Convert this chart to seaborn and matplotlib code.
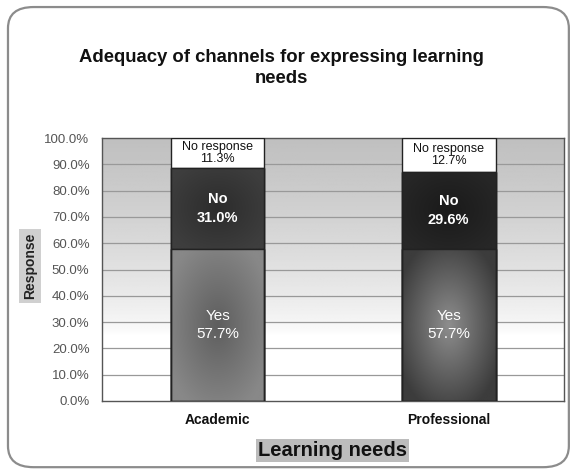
import numpy as np
import pandas as pd
import matplotlib
matplotlib.use("Agg")
import matplotlib.pyplot as plt
from matplotlib.patches import FancyBboxPatch
from matplotlib.colors import to_rgb
import seaborn as sns

# Survey data
categories = ["Academic", "Professional"]
yes_pct = [57.7, 57.7]
no_pct = [31.0, 29.6]
no_response_pct = [11.3, 12.7]
segment_names = ["Yes", "No", "No response"]
y_ticks = [0, 10, 20, 30, 40, 50, 60, 70, 80, 90, 100]

sns.set_theme(style="white")
plt.rcParams["font.family"] = ["Liberation Sans", "DejaVu Sans"]

fig = plt.figure(figsize=(5.7, 4.7), dpi=100)
ax = fig.add_axes([0.179, 0.147, 0.811, 0.559])

# Outer rounded frame
frame = FancyBboxPatch((0.014, 0.006), 0.984, 0.979,
                       boxstyle="round,pad=0,rounding_size=0.045",
                       transform=fig.transFigure, facecolor="white",
                       edgecolor="#8c8c8c", linewidth=1.6, zorder=-10)
fig.patches.append(frame)

df = pd.DataFrame({
    "category": categories,
    "Yes": yes_pct,
    "No": no_pct,
    "No response": no_response_pct,
})
df["cum_yes"] = df["Yes"]
df["cum_no"] = df["Yes"] + df["No"]
df["cum_all"] = df["cum_no"] + df["No response"]

# Stacked bars drawn as layered cumulative totals
bar_width = 0.405
sns.barplot(data=df, x="category", y="cum_all", color="white", width=bar_width,
            edgecolor="#222222", linewidth=1.0, saturation=1, ax=ax, zorder=3)
sns.barplot(data=df, x="category", y="cum_no", color="#3a3a3a", width=bar_width,
            edgecolor="#222222", linewidth=1.0, saturation=1, ax=ax, zorder=4)
sns.barplot(data=df, x="category", y="cum_yes", color="#7c7c7c", width=bar_width,
            edgecolor="#222222", linewidth=1.0, saturation=1, ax=ax, zorder=5)

# Radial shading for the filled segments: (edge colour, centre colour)
shading = {
    ("Academic", "No"): ("#3e3e3e", "#2c2c2c"),
    ("Academic", "Yes"): ("#888888", "#5e5e5e"),
    ("Professional", "No"): ("#272727", "#1a1a1a"),
    ("Professional", "Yes"): ("#3c3c3c", "#8e8e8e"),
}

containers = ax.containers  # [total, yes+no, yes]
for i, cat in enumerate(categories):
    for seg, cont, lo, hi in [("No", containers[1], df["cum_yes"][i], df["cum_no"][i]),
                              ("Yes", containers[2], 0, df["cum_yes"][i])]:
        patch = cont.patches[i]
        x0 = patch.get_x()
        w = patch.get_width()
        edge_c, centre_c = (np.array(to_rgb(c)) for c in shading[(cat, seg)])
        ny, nx = 120, 60
        yy, xx = np.mgrid[-1:1:ny * 1j, -1:1:nx * 1j]
        r = np.clip(np.sqrt(xx ** 2 + yy ** 2) / 1.2, 0, 1)[..., None]
        img = centre_c * (1 - r) + edge_c * r
        im = ax.imshow(img, extent=(x0, x0 + w, lo, hi), aspect="auto",
                       zorder=patch.get_zorder() + 0.1, interpolation="bilinear")
        im.set_clip_path(patch)
    # keep outlines above the shading
    for cont in containers[1:]:
        p = cont.patches[i]
        ax.add_patch(plt.Rectangle((p.get_x(), p.get_y()), p.get_width(), p.get_height(),
                                   fill=False, edgecolor="#222222", linewidth=1.0, zorder=6))

# Segment labels
for i, cat in enumerate(categories):
    ax.text(i, df["cum_no"][i] + df["No response"][i] / 2,
            f"No response\n{no_response_pct[i]:.1f}%", ha="center", va="center",
            fontsize=9, color="#111111", linespacing=1.0, zorder=7)
    ax.text(i, df["cum_yes"][i] + no_pct[i] / 2,
            f"No\n{no_pct[i]:.1f}%", ha="center", va="center",
            fontsize=10.5, fontweight="bold", color="white", linespacing=1.5, zorder=7)
    ax.text(i, yes_pct[i] / 2,
            f"Yes\n{yes_pct[i]:.1f}%", ha="center", va="center",
            fontsize=11, color="white", linespacing=1.4, zorder=7)

# Plot-area background: grey at the top fading to white lower down
ax.set_xlim(-0.5, 1.5)
ax.set_ylim(0, 100)
grad = np.linspace(0, 1, 200)
shade = np.clip((grad - 0.25) / 0.75, 0, 1) ** 0.7
bg = 1 - 0.25 * shade
bg_img = np.repeat(bg[:, None], 2, axis=1)
ax.imshow(bg_img, extent=(-0.5, 1.5, 0, 100), origin="lower", cmap="gray",
          vmin=0, vmax=1, aspect="auto", zorder=0)

ax.set_yticks(y_ticks)
ax.set_yticklabels([f"{v:.1f}%" for v in y_ticks], fontsize=9.5, color="#555555")
for v in y_ticks[1:-1]:
    ax.axhline(v, color="#999999", linewidth=0.9, zorder=1)
ax.tick_params(axis="y", length=0, pad=9)
ax.tick_params(axis="x", length=0, pad=9)
ax.set_xticks(range(len(categories)))
ax.set_xticklabels(categories, fontsize=10, fontweight="bold", color="#111111")
for s in ax.spines.values():
    s.set_color("#555555")
    s.set_linewidth(1.0)

ax.set_xlabel("")
ax.set_ylabel("")
fig.text(0.053, 0.434, "Response", rotation=90, ha="center", va="center",
         fontsize=10, fontweight="bold", color="#222222",
         bbox=dict(facecolor="#d0d0d0", edgecolor="none", pad=3))
fig.text(0.584, 0.042, "Learning needs", ha="center", va="center",
         fontsize=14.5, fontweight="bold", color="#111111",
         bbox=dict(facecolor="#bcbcbc", edgecolor="none", pad=1.5))

fig.text(0.493, 0.855, "Adequacy of channels for expressing learning\nneeds",
         ha="center", va="center", fontsize=13.3, fontweight="bold",
         color="#111111", linespacing=1.35)

fig.savefig("out.png", dpi=100)
